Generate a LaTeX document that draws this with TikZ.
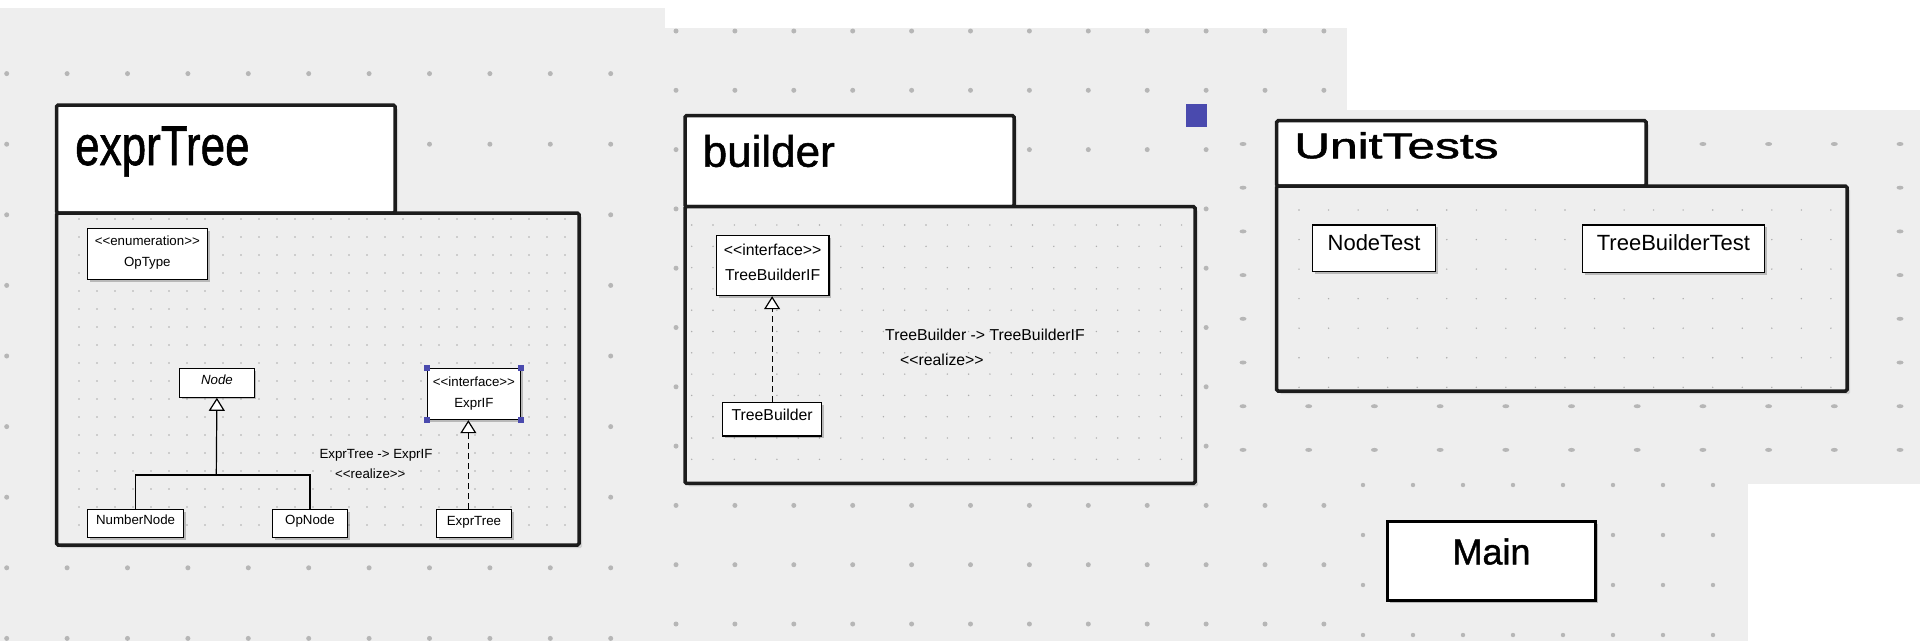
\documentclass[tikz,border=0pt]{standalone}
\usepackage{fontspec}
\usepackage{graphicx}
\usetikzlibrary{arrows.meta,shadows}

\newfontfamily\umlfont{Liberation Sans}
\newfontfamily\titlefont[FakeBold=1.2]{Liberation Sans}

\definecolor{canvas}{HTML}{EEEEEE}
\definecolor{griddot}{HTML}{B6B6B6}
\definecolor{finedot}{HTML}{ADADAD}
\definecolor{pkgedge}{HTML}{1C1C1C}
\definecolor{handle}{HTML}{4A4AAE}

\tikzset{
  pkgtab/.style={draw=pkgedge, line width=3.5pt, rounded corners=1.5pt, fill=white,
    drop shadow={shadow xshift=3pt, shadow yshift=-3pt, fill=black, opacity=0.12}},
  pkgbody/.style={draw=pkgedge, line width=3.5pt, rounded corners=1.5pt, fill=canvas,
    drop shadow={shadow xshift=3pt, shadow yshift=-3pt, fill=black, opacity=0.12}},
  pkgtitle/.style={anchor=base west, inner sep=0pt},
  umlbox/.style={draw=black, line width=1.2pt, fill=white, inner sep=0pt, anchor=north west,
    drop shadow={shadow xshift=2.2pt, shadow yshift=-2.2pt, fill=black, opacity=0.22}},
  mainbox/.style={umlbox, line width=3pt},
  note/.style={anchor=base west, inner sep=0pt},
  exprsize/.style={font=\fontsize{13.3}{21}\selectfont},
  buildsize/.style={font=\fontsize{15.8}{25}\selectfont},
  testsize/.style={font=\fontsize{22}{26}\selectfont},
  inherit/.style={line width=1.2pt},
  realize/.style={line width=1.2pt, dash pattern=on 6pt off 4pt,
    -{Triangle[width=16pt,length=13pt,fill=white]}},
  inherithead/.style={line width=1.2pt, -{Triangle[width=16pt,length=13pt,fill=white]}},
}

\begin{document}
\begin{tikzpicture}[x=1pt,y=-1pt]
\umlfont
\useasboundingbox (0,0) rectangle (1920,641);
\fill[white] (0,0) rectangle (1920,641);

% pasted screenshot backgrounds with their grids
\fill[canvas] (0,8) rectangle (665,641);
\foreach \i in {0,...,10} \foreach \j in {0,...,8}
  \fill[griddot] ({6.7+60.4*\i},{73.6+70.6*\j}) circle[radius=2.5pt];

\fill[canvas] (665,28) rectangle (1347,641);
\foreach \i in {0,...,11} \foreach \j in {0,...,10}
  \fill[griddot] ({676+58.9*\i},{31+59.3*\j}) circle[radius=2.5pt];

\fill[canvas] (1225,110) rectangle (1920,484);
\foreach \i in {0,...,10} \foreach \j in {0,...,7}
  \fill[griddot] ({1243+65.7*\i},{144+43.7*\j}) ellipse[x radius=3.5pt, y radius=2pt];

\fill[canvas] (1340,484) rectangle (1748,641);
\foreach \i in {0,...,7} \foreach \j in {0,...,3}
  \fill[griddot] ({1363+50*\i},{485+50*\j}) circle[radius=2.2pt];

% package exprTree
\draw[pkgtab] (56.7,105) rectangle (395,213);
\draw[pkgbody] (56.7,213) rectangle (579,545);
\foreach \i in {0,...,27} \foreach \j in {0,...,17}
  \fill[finedot] ({79+18*\i},{219+18*\j}) circle[radius=0.8pt];
\node[pkgtitle, font=\titlefont\fontsize{44}{50}\selectfont] (exprtreetitle) at (75,165) {\scalebox{1}[1.27]{exprTree}};

\node[umlbox, exprsize, minimum width=120pt, text height=17.1pt, text depth=33.9pt] (optype) at (86.7,227.7)
  {\begin{tabular}[t]{@{}c@{}}<<enumeration>>\\OpType\end{tabular}};
\node[umlbox, exprsize, minimum width=74.6pt, text height=15.8pt, text depth=12.8pt] (nodebase) at (179,368) {\textit{Node}};
\node[umlbox, exprsize, minimum width=93.3pt, text height=17.8pt, text depth=33.5pt] (exprif) at (426.7,367.7)
  {\begin{tabular}[t]{@{}c@{}}<<interface>>\\ExprIF\end{tabular}};
\node[umlbox, exprsize, minimum width=96pt, text height=15pt, text depth=13pt] (numbernode) at (87,509) {NumberNode};
\node[umlbox, exprsize, minimum width=74.7pt, text height=15pt, text depth=13pt] (opnode) at (272,509) {OpNode};
\node[umlbox, exprsize, minimum width=74.7pt, text height=15.5pt, text depth=12.5pt] (exprtree) at (436,509) {ExprTree};

\foreach \c in {north west,north east,south west,south east}
  \fill[handle] ([shift={(-3pt,-3pt)}]exprif.\c) rectangle ([shift={(3pt,3pt)}]exprif.\c);

\coordinate (nodejoin) at (216.3,475);
\draw[inherit] (numbernode.north) |- (nodejoin) -| (opnode.north);
\draw[inherithead] (nodejoin) -- (nodebase.south);
\draw[realize] ([xshift=-5.6pt]exprtree.north) -- ([xshift=-5.6pt]exprif.south);

\node[note, exprsize] (realizeexpr) at (319.3,458) {ExprTree -> ExprIF};
\node[note, exprsize] (realizeexprtag) at (335,478) {<<realize>>};

% package builder
\draw[pkgtab] (685,115.7) rectangle (1014,206.7);
\draw[pkgbody] (685,206.7) rectangle (1195,483.3);
\foreach \i in {0,...,23} \foreach \j in {0,...,11}
  \fill[finedot] ({691.7+21.3*\i},{225+21.3*\j}) circle[radius=0.8pt];
\node[pkgtitle, font=\titlefont\fontsize{44}{50}\selectfont] (buildertitle) at (702.5,166.7) {builder};

\node[umlbox, buildsize, minimum width=112.6pt, text height=19.7pt, text depth=40.3pt] (treebuilderif) at (715.7,235)
  {\begin{tabular}[t]{@{}c@{}}<<interface>>\\TreeBuilderIF\end{tabular}};
\node[umlbox, buildsize, minimum width=99pt, text height=17.7pt, text depth=15.7pt] (treebuilder) at (722,402) {TreeBuilder};
\draw[realize] (treebuilder.north) -- (treebuilder.north |- treebuilderif.south);

\node[note, buildsize] (realizebuild) at (885,340.7) {TreeBuilder -> TreeBuilderIF};
\node[note, buildsize] (realizebuildtag) at (900,365) {<<realize>>};

\fill[handle] (1186,104) rectangle (1207,127);

% package UnitTests
\draw[pkgtab] (1276.7,120.7) rectangle (1646,186);
\draw[pkgbody] (1276.7,186) rectangle (1847,391);
\foreach \i in {0,...,18} \foreach \j in {0,...,6}
  \fill[finedot] ({1299+29.55*\i},{210+29.55*\j}) circle[radius=0.8pt];
\node[pkgtitle, font=\titlefont\fontsize{36}{42}\selectfont] (unitteststitle) at (1294,158.3) {\scalebox{1.38}[1]{UnitTests}};

\node[umlbox, testsize, minimum width=123pt, text height=25.3pt, text depth=21.4pt] (nodetest) at (1312,224.3) {NodeTest};
\node[umlbox, testsize, minimum width=182.3pt, text height=25.3pt, text depth=22.1pt] (treebuildertest) at (1581.7,224.3) {TreeBuilderTest};

% Main
\node[mainbox, font=\titlefont\fontsize{36}{42}\selectfont, minimum width=208pt, text height=42.9pt, text depth=36.4pt] (main) at (1386,520) {Main};
\end{tikzpicture}
\end{document}
